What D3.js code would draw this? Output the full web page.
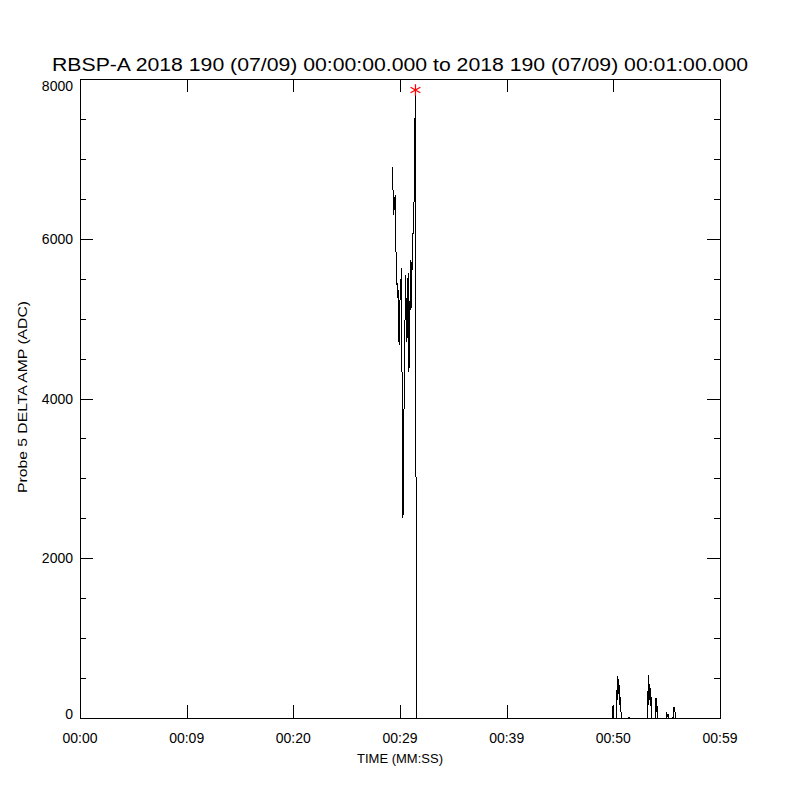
<!DOCTYPE html>
<html>
<head>
<meta charset="utf-8">
<script src="https://cdn.jsdelivr.net/npm/d3@7"></script>
<style>
  body { margin: 0; background: #fff; }
  text { font-family: "Liberation Sans", sans-serif; fill: #000; }
</style>
</head>
<body>
<div id="chart"></div>
<script>
// time in seconds after 00:00:00.000, amplitude in ADC
let timeSec = [
    29.30, 29.34, 29.39, 29.44, 29.48, 29.53, 29.56, 29.59, 29.63, 29.67,
    29.72, 29.75, 29.77, 29.81, 29.84, 29.87, 29.91, 30.00, 30.14, 30.23,
    30.26, 30.28, 30.33, 30.40, 30.52, 30.61, 30.68, 30.71, 30.78, 30.82,
    30.84, 30.87, 30.91, 30.97, 31.03, 31.08, 31.13, 31.15, 31.22, 31.25,
    31.31, 31.34, 31.37, 31.39, 31.41, 31.42, 31.45, 31.53, 31.59,
    49.88, 49.97, 50.02, 50.30, 50.34, 50.37, 50.40, 50.44, 50.48, 50.53,
    50.56, 50.59, 50.63, 50.67, 50.72, 50.81, 51.44, 51.47, 51.50,
    53.16, 53.19, 53.22, 53.27, 53.31, 53.34, 53.39, 53.44, 53.48, 53.53,
    53.58, 53.63, 53.95, 54.00, 54.05, 54.09, 54.14,
    54.94, 54.98, 55.05, 55.13, 55.22, 55.59, 55.69, 55.78, 55.88, 57.00
];
let amp = [
    6900, 6650, 6300, 6520, 6360, 6510, 6385, 6550, 5760, 5800,
    5420, 5450, 5260, 5410, 4980, 5360, 4670, 5230, 5630, 3230,
    3355, 2500, 3230, 4190, 5545, 4710, 5510, 4760, 5570, 4330,
    4670, 4380, 4730, 5730, 5110, 5710, 5610, 6070, 6050, 6385,
    6360, 7070, 7510, 7110, 7490, 7240, 7875, 225, 0,
    0, 150, 0, 0, 350, 225, 525, 400, 490, 300,
    415, 165, 265, 120, 75, 0, 0, 15, 0,
    0, 100, 0, 540, 165, 450, 225, 375, 150, 265,
    40, 0, 0, 250, 75, 165, 0,
    0, 75, 25, 50, 0, 0, 140, 75, 0, 0
];

let xTicks = [0, 10, 20, 30, 40, 50, 60];
let xTickLabels = ["00:00", "00:09", "00:20", "00:29", "00:39", "00:50", "00:59"];
let yTicks = [0, 2000, 4000, 6000, 8000];

let width = 800, height = 800;
let margin = { left: 80, right: 80, top: 79, bottom: 82 };

let svg = d3.select("#chart")
    .append("svg")
    .attr("width", width)
    .attr("height", height);

let x = d3.scaleLinear().domain([0, 60]).range([margin.left, width - margin.right]);
let y = d3.scaleLinear().domain([0, 8000]).range([height - margin.bottom, margin.top]);

let data = timeSec.map((t, i) => ({ t: t, v: amp[i] }));

// data line
let line = d3.line().x(d => x(d.t)).y(d => y(d.v));
svg.append("path")
    .datum(data)
    .attr("d", line)
    .attr("fill", "none")
    .attr("stroke", "#000")
    .attr("stroke-width", 1)
    .attr("shape-rendering", "crispEdges");

// plot box
let axes = svg.append("g")
    .attr("stroke", "#000")
    .attr("stroke-width", 1)
    .attr("shape-rendering", "crispEdges");
axes.append("rect")
    .attr("x", x(0) + 0.5)
    .attr("y", y(8000) + 0.5)
    .attr("width", x(60) - x(0))
    .attr("height", y(0) - y(8000))
    .attr("fill", "none");

// x ticks, top and bottom
xTicks.forEach(t => {
    let px = Math.round(x(t)) + 0.5;
    axes.append("line").attr("x1", px).attr("x2", px).attr("y1", y(0)).attr("y2", y(0) - 13);
    axes.append("line").attr("x1", px).attr("x2", px).attr("y1", y(8000)).attr("y2", y(8000) + 13);
});

// y ticks, major every 2000 and minor every 500, left and right
d3.range(0, 8001, 500).forEach(v => {
    let len = v % 2000 === 0 ? 13 : 6;
    let py = Math.round(y(v)) + 0.5;
    axes.append("line").attr("x1", x(0)).attr("x2", x(0) + len).attr("y1", py).attr("y2", py);
    axes.append("line").attr("x1", x(60)).attr("x2", x(60) - len).attr("y1", py).attr("y2", py);
});

// tick labels
svg.append("g").selectAll("text")
    .data(xTicks)
    .enter()
    .append("text")
    .attr("x", d => x(d))
    .attr("y", y(0) + 25)
    .attr("text-anchor", "middle")
    .style("font-size", "14px")
    .text((d, i) => xTickLabels[i]);

svg.append("g").selectAll("text")
    .data(yTicks)
    .enter()
    .append("text")
    .attr("x", x(0) - 7)
    .attr("y", d => d === 8000 ? y(d) + 12 : (d === 0 ? y(d) + 1 : y(d) + 5))
    .attr("text-anchor", "end")
    .style("font-size", "14px")
    .text(d => d);

// max marker
let peak = data[d3.maxIndex(data, d => d.v)];
svg.append("path")
    .attr("d", d3.symbol(d3.symbolAsterisk, 90)())
    .attr("transform", `translate(${x(peak.t)}, ${y(peak.v) + 1})`)
    .attr("fill", "none")
    .attr("stroke", "#ff0000")
    .attr("stroke-width", 1.2);

// titles
svg.append("text")
    .attr("x", 400)
    .attr("y", 71)
    .attr("text-anchor", "middle")
    .attr("textLength", 696)
    .attr("lengthAdjust", "spacingAndGlyphs")
    .style("font-size", "18px")
    .text("RBSP-A 2018 190 (07/09) 00:00:00.000 to 2018 190 (07/09) 00:01:00.000");

svg.append("text")
    .attr("x", 400)
    .attr("y", 763)
    .attr("text-anchor", "middle")
    .style("font-size", "13px")
    .text("TIME (MM:SS)");

svg.append("text")
    .attr("transform", "translate(27, 397) rotate(-90)")
    .attr("text-anchor", "middle")
    .attr("textLength", 192)
    .attr("lengthAdjust", "spacingAndGlyphs")
    .style("font-size", "13px")
    .text("Probe 5 DELTA AMP (ADC)");
</script>
</body>
</html>
